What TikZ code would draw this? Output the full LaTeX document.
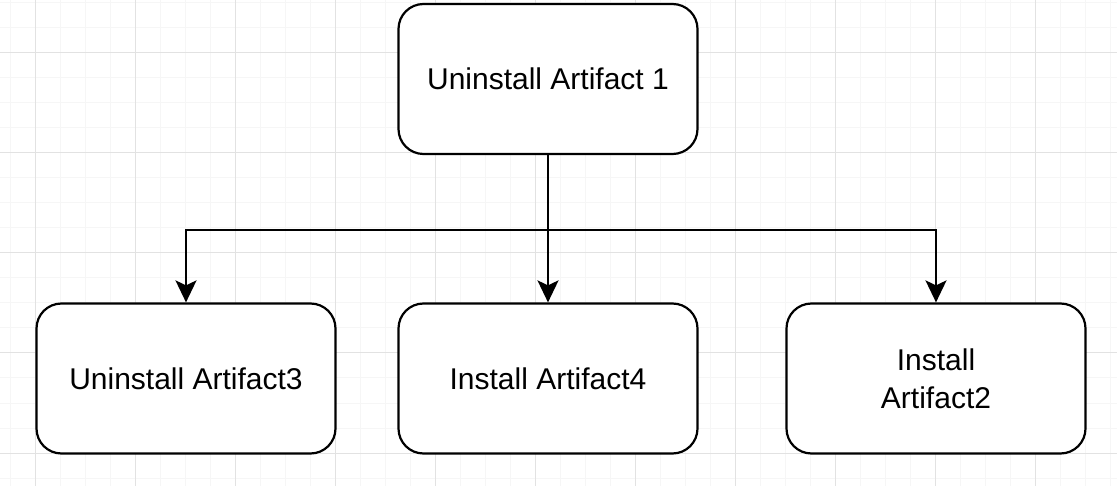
\documentclass[tikz,border=0pt]{standalone}
\usepackage{fontspec}
\setmainfont{Liberation Sans}
\usetikzlibrary{arrows.meta}
\definecolor{minorgrid}{HTML}{F6F6F6}
\definecolor{majorgrid}{HTML}{E2E2E2}
\tikzset{
  box/.style={draw=black, line width=2.2pt, fill=white, rounded corners=25pt,
    minimum width=299pt, minimum height=150pt, inner sep=0pt, align=center,
    font=\fontsize{30}{38}\selectfont},
  arr/.style={line width=2.2pt, -{Stealth[length=22pt,width=21pt,inset=5pt]}},
}
\begin{document}
\begin{tikzpicture}[x=1pt,y=-1pt]
\useasboundingbox (0,0) rectangle (1117,486);
\fill[white] (0,0) rectangle (1117,486);
% minor grid
\foreach \x in {10,35,...,1110} \draw[minorgrid, line width=1pt] (\x,0) -- (\x,486);
\foreach \y in {3,28,...,480} \draw[minorgrid, line width=1pt] (0,\y) -- (1117,\y);
% major grid
\foreach \x in {35,135,...,1035} \draw[majorgrid, line width=1pt] (\x,0) -- (\x,486);
\foreach \y in {53,153,...,453} \draw[majorgrid, line width=1pt] (0,\y) -- (1117,\y);

\node[box] (top) at (548,79) {Uninstall Artifact 1};
\node[box] (left) at (186,378.5) {Uninstall Artifact3};
\node[box] (mid) at (548,378.5) {Install Artifact4};
\node[box] (right) at (936,378.5) {Install\\Artifact2};

\coordinate (j) at (548,230);
\draw[arr] (top.south) -- (mid.north);
\draw[arr] (j) -| (left.north);
\draw[arr] (j) -| (right.north);
\end{tikzpicture}
\end{document}
